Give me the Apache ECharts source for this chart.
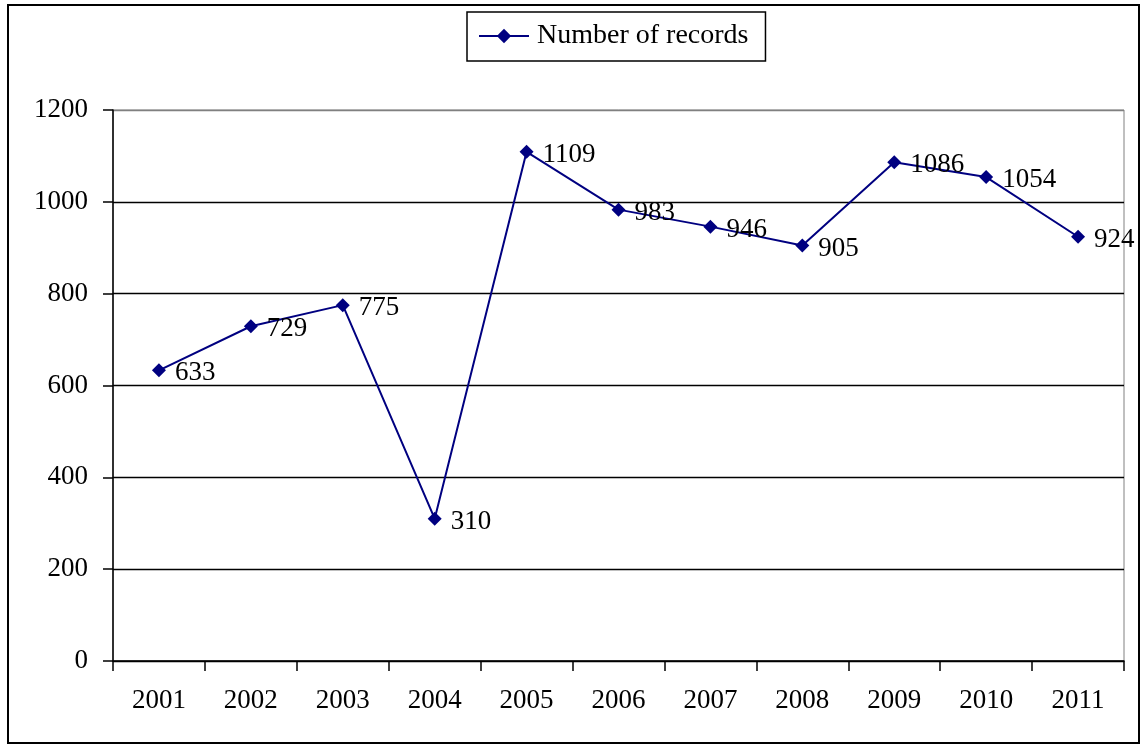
<!DOCTYPE html>
<html>
<head>
<meta charset="utf-8">
<script src="https://cdn.jsdelivr.net/npm/echarts@6/dist/echarts.min.js"></script>
<style>
html,body{margin:0;padding:0;background:#fff;}
#chart{width:1143px;height:748px;}
</style>
</head>
<body>
<div id="chart"></div>
<script>
const categories = ['2001','2002','2003','2004','2005','2006','2007','2008','2009','2010','2011'];
const records = [633, 729, 775, 310, 1109, 983, 946, 905, 1086, 1054, 924];
const seriesName = 'Number of records';

const FONT = "'Liberation Serif', 'DejaVu Serif', serif";
const chart = echarts.init(document.getElementById('chart'), null, {renderer: 'canvas'});
chart.setOption({
  animation: false,
  backgroundColor: '#fff',
  textStyle: {fontFamily: FONT},
  graphic: [{
    type: 'rect',
    shape: {x: 8, y: 5, width: 1131, height: 738},
    style: {fill: 'none', stroke: '#000', lineWidth: 2},
    z: 100, silent: true
  }],
  legend: {
    left: 467, top: 12,
    padding: [10, 17, 11, 11],
    borderColor: '#000', borderWidth: 1.5,
    itemWidth: 50, itemHeight: 18, itemGap: 10,
    textStyle: {fontFamily: FONT, fontSize: 28, color: '#000', padding: [0, 0, 0, 3]},
    data: [seriesName]
  },
  grid: {
    left: 113, right: 19, top: 110, bottom: 87,
    show: true, borderColor: '#808080', borderWidth: 1,
    containLabel: false
  },
  xAxis: {
    type: 'category',
    data: categories,
    boundaryGap: true,
    axisLine: {lineStyle: {color: '#000', width: 1.5}},
    axisTick: {show: true, length: 10, lineStyle: {color: '#000', width: 1.5}},
    axisLabel: {color: '#000', fontFamily: FONT, fontSize: 27, margin: 26},
    splitLine: {show: false}
  },
  yAxis: {
    type: 'value',
    min: 0, max: 1200, interval: 200,
    axisLine: {show: true, lineStyle: {color: '#000', width: 1.5}},
    axisTick: {show: true, length: 10, lineStyle: {color: '#000', width: 1.5}},
    axisLabel: {color: '#000', fontFamily: FONT, fontSize: 27, margin: 25,
      formatter: function (v) { return String(v); }},
    splitLine: {show: true, lineStyle: {color: ['#000','#000','#000','#000','#000','#000','#808080'], width: 1.3}}
  },
  series: [{
    name: seriesName,
    type: 'line',
    data: records,
    symbol: 'diamond',
    symbolSize: 14,
    itemStyle: {color: '#000080'},
    lineStyle: {color: '#000080', width: 2},
    label: {
      show: true, position: 'right', distance: 9, offset: [0, 3],
      color: '#000', fontFamily: FONT, fontSize: 27
    },
    z: 5
  }]
});
</script>
</body>
</html>
